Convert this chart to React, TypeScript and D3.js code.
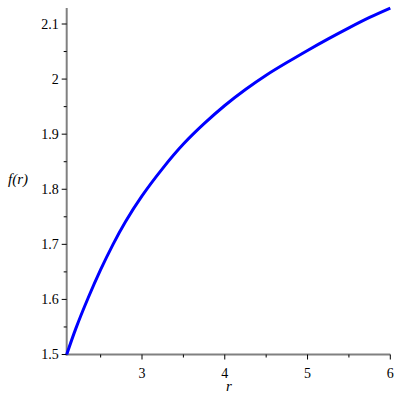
import React from "react";
import * as d3 from "d3";

const rValues = [2.09, 2.2, 2.35, 2.5, 2.65, 2.8, 3.0, 3.25, 3.5, 3.75, 4.0, 4.25, 4.5, 4.75, 5.0, 5.25, 5.5, 5.75, 6.0];
const fValues = [1.5, 1.547, 1.603, 1.654, 1.7, 1.741, 1.788, 1.838, 1.882, 1.919, 1.952, 1.981, 2.007, 2.03, 2.052, 2.073, 2.093, 2.112, 2.129];
const xMajorTicks = [3, 4, 5, 6];
const xMinorTicks = [2.5, 3.5, 4.5, 5.5];
const yMajorTicks = [1.5, 1.6, 1.7, 1.8, 1.9, 2.0, 2.1];
const yMinorTicks = [1.55, 1.65, 1.75, 1.85, 1.95, 2.05];
const xLabel = "r";
const yLabel = "f(r)";

export default function App() {
  const x = d3.scaleLinear().domain([2.09, 6]).range([66.7, 390.3]);
  const y = d3.scaleLinear().domain([1.5, 2.1]).range([354.5, 24]);
  const data = rValues.map((r, i) => [r, fValues[i]] as [number, number]);
  const line = d3
    .line<[number, number]>()
    .x((d) => x(d[0]))
    .y((d) => y(d[1]))
    .curve(d3.curveNatural);
  const x0 = x(2.09);
  const y0 = y(1.5);
  const yTop = y(d3.max(fValues) as number);
  const font = "Liberation Serif, DejaVu Serif, Times New Roman, serif";
  const ts = { fontFamily: font };
  return (
    <svg
      width={400}
      height={400}
      style={{ position: "fixed", left: 0, top: 0, background: "#fff" }}
    >
      <line x1={x0} x2={x0} y1={yTop} y2={y0 + 1} stroke="#808080" strokeWidth={2} />
      <line x1={x0 - 1} x2={x(6)} y1={y0} y2={y0} stroke="#808080" strokeWidth={2} />
      {yMajorTicks.map((t) => (
        <g key={"ym" + t}>
          <line x1={x0 - 5} x2={x0} y1={y(t)} y2={y(t)} stroke="#000" strokeWidth={1} />
          <text
            x={x0 - 8}
            y={y(t)}
            dy="0.35em"
            textAnchor="end"
            style={ts}
            fontSize={14}
            fill="#000"
          >
            {String(t)}
          </text>
        </g>
      ))}
      {yMinorTicks.map((t) => (
        <line key={"yn" + t} x1={x0 - 3} x2={x0} y1={y(t)} y2={y(t)} stroke="#000" strokeWidth={1} />
      ))}
      {xMajorTicks.map((t) => (
        <g key={"xm" + t}>
          <line x1={x(t)} x2={x(t)} y1={y0} y2={y0 + 5} stroke="#000" strokeWidth={1} />
          <text
            x={x(t)}
            y={y0 + 23}
            textAnchor="middle"
            style={ts}
            fontSize={14}
            fill="#000"
          >
            {t}
          </text>
        </g>
      ))}
      {xMinorTicks.map((t) => (
        <line key={"xn" + t} x1={x(t)} x2={x(t)} y1={y0} y2={y0 + 3} stroke="#000" strokeWidth={1} />
      ))}
      <path d={line(data) || ""} fill="none" stroke="#0000ff" strokeWidth={3} />
      <text
        x={229}
        y={391}
        textAnchor="middle"
        style={ts}
        fontStyle="italic"
        fontSize={15}
        fill="#000"
      >
        {xLabel}
      </text>
      <text x={8} y={184} style={ts} fontStyle="italic" fontSize={15} fill="#000">
        {yLabel}
      </text>
    </svg>
  );
}
